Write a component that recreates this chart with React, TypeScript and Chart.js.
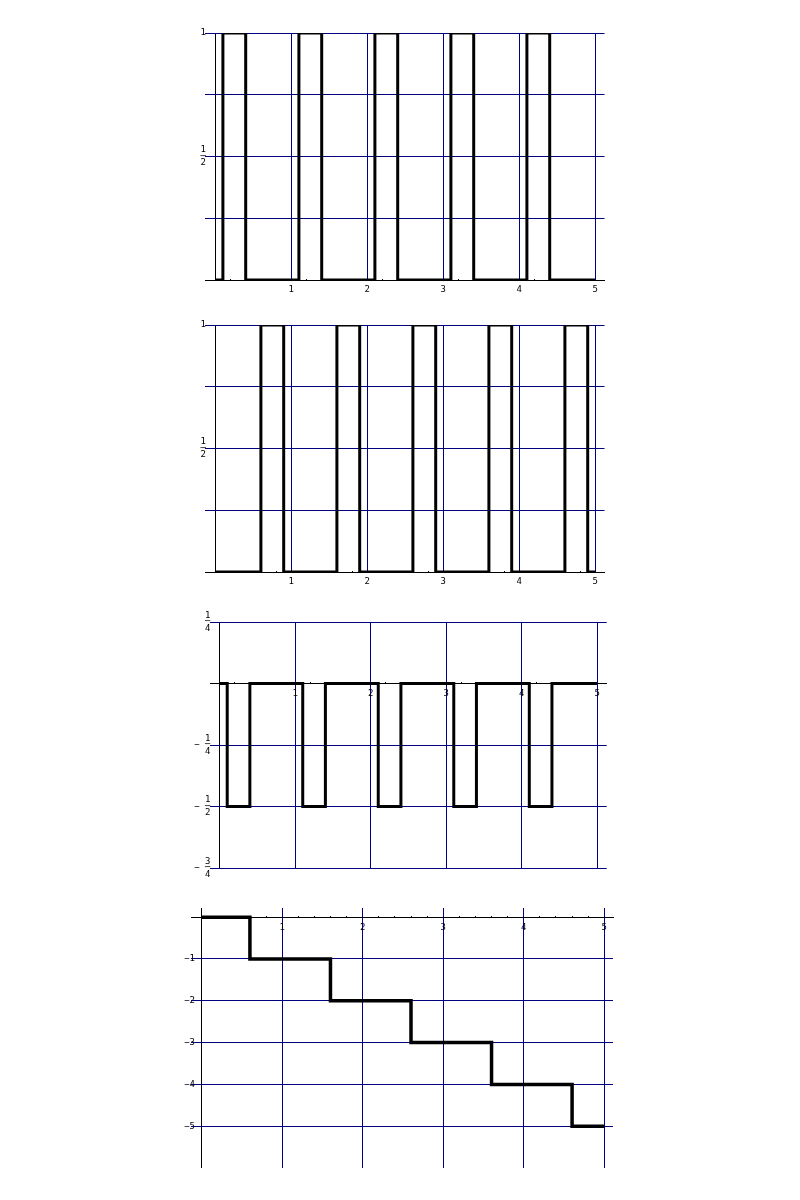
import React, { useEffect, useRef } from 'react';
import { Chart, registerables } from 'chart.js';

Chart.register(...registerables);

const NAVY = '#000080';
const FONT = 'DejaVu Sans Mono';

// Shared x axis ticks
const xMajorTicks = [0, 1, 2, 3, 4, 5];
const xMajorLabels = ['', '1', '2', '3', '4', '5'];
const xMinorTicks = [
  0.2, 0.4, 0.6, 0.8, 1.2, 1.4, 1.6, 1.8, 2.2, 2.4, 2.6, 2.8,
  3.2, 3.4, 3.6, 3.8, 4.2, 4.4, 4.6, 4.8,
];

// Panel 1
const p1X = [0, 0.1, 0.4, 1.1, 1.4, 2.1, 2.4, 3.1, 3.4, 4.1, 4.4, 5];
const p1Y = [0, 1, 0, 1, 0, 1, 0, 1, 0, 1, 0, 0];
const p1YTicks = [0, 0.25, 0.5, 0.75, 1];
const p1YLabels: (string | string[])[] = ['', '', ['1', '─', '2'], '', '1'];

// Panel 2
const p2X = [0, 0.6, 0.9, 1.6, 1.9, 2.6, 2.9, 3.6, 3.9, 4.6, 4.9, 5];
const p2Y = [0, 1, 0, 1, 0, 1, 0, 1, 0, 1, 0, 0];
const p2YTicks = [0, 0.25, 0.5, 0.75, 1];
const p2YLabels: (string | string[])[] = ['', '', ['1', '─', '2'], '', '1'];

// Panel 3
const p3X = [0, 0.1, 0.4, 1.1, 1.4, 2.1, 2.4, 3.1, 3.4, 4.1, 4.4, 5];
const p3Y = [0, -0.5, 0, -0.5, 0, -0.5, 0, -0.5, 0, -0.5, 0, 0];
const p3YTicks = [-0.75, -0.5, -0.25, 0, 0.25];
const p3YLabels: (string | string[])[] = [
  ['  3', '− ─', '  4'],
  ['  1', '− ─', '  2'],
  ['  1', '− ─', '  4'],
  '',
  ['1', '─', '4'],
];

// Panel 4
const p4X = [0, 0.6, 1.6, 2.6, 3.6, 4.6, 5];
const p4Y = [0, -1, -2, -3, -4, -5, -5];
const p4YTicks = [-5, -4, -3, -2, -1, 0];
const p4YLabels: (string | string[])[] = ['−5', '−4', '−3', '−2', '−1', ''];

type PanelCfg = {
  xs: number[];
  ys: number[];
  yTicks: number[];
  yLabels: (string | string[])[];
  top: number;
  height: number;
  chartTop: number;
  chartBottom: number;
  left: number;
  right: number;
  xMin: number;
  xMax: number;
  yMin: number;
  yMax: number;
  lineWidth: number;
  yLabelRight: number;
};

const panels: PanelCfg[] = [
  {
    xs: p1X, ys: p1Y, yTicks: p1YTicks, yLabels: p1YLabels,
    top: 0, height: 300, chartTop: 33, chartBottom: 280, left: 205, right: 604.5,
    xMin: -0.1355, xMax: 5.121, yMin: 0, yMax: 1, lineWidth: 3, yLabelRight: 206,
  },
  {
    xs: p2X, ys: p2Y, yTicks: p2YTicks, yLabels: p2YLabels,
    top: 300, height: 290, chartTop: 325, chartBottom: 572, left: 205, right: 604.5,
    xMin: -0.1355, xMax: 5.121, yMin: 0, yMax: 1, lineWidth: 3, yLabelRight: 206,
  },
  {
    xs: p3X, ys: p3Y, yTicks: p3YTicks, yLabels: p3YLabels,
    top: 590, height: 295, chartTop: 622, chartBottom: 868, left: 210, right: 606.7,
    xMin: -0.128, xMax: 5.125, yMin: -0.75, yMax: 0.25, lineWidth: 3, yLabelRight: 210.5,
  },
  {
    xs: p4X, ys: p4Y, yTicks: p4YTicks, yLabels: p4YLabels,
    top: 885, height: 315, chartTop: 908, chartBottom: 1168, left: 191, right: 613,
    xMin: -0.1316, xMax: 5.108, yMin: -6, yMax: 0.22, lineWidth: 3.5, yLabelRight: 195,
  },
];

const near = (a: number, b: number) => Math.abs(a - b) < 1e-6;

function makeLabelPlugin(labelRight: number) {
  return {
    id: 'yLabelPlacement',
    afterLayout(chart: any) {
      const y = chart.scales.y;
      if (y) {
        y.left = labelRight - 60;
        y.right = labelRight;
      }
    },
  };
}

function Panel({ cfg }: { cfg: PanelCfg }) {
  const ref = useRef<HTMLCanvasElement | null>(null);

  useEffect(() => {
    if (!ref.current) return;
    const xTickValues = [...xMajorTicks, ...xMinorTicks].sort((a, b) => a - b);
    const isMajor = (v: number) => xMajorTicks.some((t) => near(t, v));

    const chart = new Chart(ref.current, {
      type: 'line',
      data: {
        datasets: [
          {
            data: cfg.xs.map((x, i) => ({ x, y: cfg.ys[i] })),
            borderColor: '#000000',
            borderWidth: cfg.lineWidth,
            pointRadius: 0,
            stepped: true,
            fill: false,
            tension: 0,
            borderJoinStyle: 'miter',
            borderCapStyle: 'butt',
          },
        ],
      },
      plugins: [makeLabelPlugin(cfg.yLabelRight)],
      options: {
        responsive: false,
        animation: false,
        devicePixelRatio: 1,
        events: [],
        layout: {
          padding: {
            left: cfg.left,
            right: 800 - cfg.right,
            top: cfg.chartTop - cfg.top,
            bottom: cfg.top + cfg.height - cfg.chartBottom,
          },
        },
        plugins: {
          legend: { display: false },
          tooltip: { enabled: false },
        },
        scales: {
          x: {
            type: 'linear',
            position: { y: 0 },
            min: cfg.xMin,
            max: cfg.xMax,
            afterBuildTicks: (s: any) => {
              s.ticks = xTickValues.map((v) => ({ value: v }));
            },
            afterFit: (s: any) => {
              s.height = 0;
            },
            grid: {
              lineWidth: 1,
              tickLength: -2,
              color: (ctx: any) => {
                const v = ctx.tick ? ctx.tick.value : NaN;
                if (near(v, 0)) return '#000000';
                if (isMajor(v)) return NAVY;
                return 'rgba(0,0,0,0)';
              },
              tickColor: (ctx: any) => {
                const v = ctx.tick ? ctx.tick.value : NaN;
                if (isMajor(v)) return 'rgba(0,0,0,0)';
                return '#000000';
              },
            },
            border: { display: true, color: '#000000', width: 1 },
            ticks: {
              autoSkip: false,
              maxRotation: 0,
              minRotation: 0,
              padding: 7.5,
              color: '#000000',
              font: { family: FONT, size: 9, lineHeight: 1 },
              callback: (value: any) => {
                const i = xMajorTicks.findIndex((t) => near(t, Number(value)));
                return i >= 0 ? xMajorLabels[i] : '';
              },
            },
          },
          y: {
            type: 'linear',
            position: 'left',
            min: cfg.yMin,
            max: cfg.yMax,
            afterBuildTicks: (s: any) => {
              s.ticks = cfg.yTicks.map((v) => ({ value: v }));
            },
            afterFit: (s: any) => {
              s.width = 0;
            },
            grid: { color: NAVY, lineWidth: 1, drawTicks: false },
            border: { display: false },
            ticks: {
              autoSkip: false,
              padding: 0,
              color: '#000000',
              font: { family: FONT, size: 9, lineHeight: '6.5px' },
              callback: (value: any) => {
                const i = cfg.yTicks.findIndex((t) => near(t, Number(value)));
                return i >= 0 ? cfg.yLabels[i] : '';
              },
            },
          },
        },
      },
    } as any);

    return () => {
      chart.destroy();
    };
  }, [cfg]);

  return (
    <canvas
      ref={ref}
      width={800}
      height={cfg.height}
      style={{ position: 'absolute', left: 0, top: cfg.top, width: 800, height: cfg.height }}
    />
  );
}

export default function App() {
  return (
    <div
      style={{
        position: 'absolute',
        left: 0,
        top: 0,
        width: 800,
        height: 1200,
        background: '#ffffff',
        overflow: 'hidden',
      }}
    >
      {panels.map((cfg, i) => (
        <Panel key={i} cfg={cfg} />
      ))}
    </div>
  );
}
